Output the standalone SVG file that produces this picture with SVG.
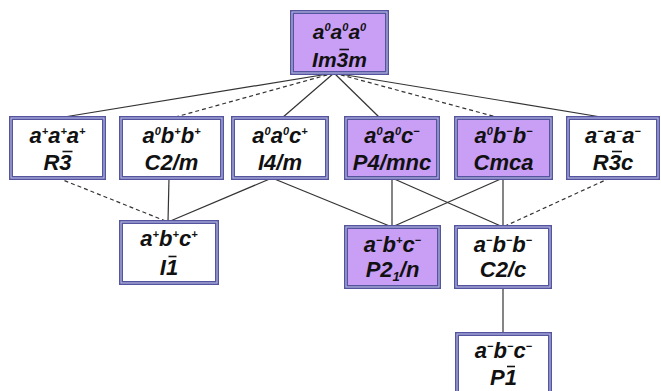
<svg xmlns="http://www.w3.org/2000/svg" width="661" height="391" viewBox="0 0 661 391">
  <style>
    .box { stroke: #55559f; stroke-width: 4; }
    .box-in { fill: none; stroke: #b4b4e2; stroke-width: 1.2; }
    .w { fill: #ffffff; }
    .p { fill: #c99ef5; }
    text { font-family: "Liberation Sans", Arial, sans-serif; font-weight: bold; font-style: italic; fill: #111; text-anchor: middle; }
    .t1 { font-size: 21px; }
    .t2 { font-size: 22px; }
    .sup { font-size: 11px; }
    .sub { font-size: 13px; }
    .bar { stroke: #111; stroke-width: 1.6; }
    .con line { stroke: #333; stroke-width: 1.2; fill: none; }
    .con .d { stroke-dasharray: 4 3; }
  </style>

  <!-- connectors -->
  <g id="connectors" class="con">
    <line x1="334" y1="73" x2="58" y2="118"/>
    <line class="d" x1="334" y1="73" x2="172" y2="118"/>
    <line x1="334" y1="73" x2="282" y2="118"/>
    <line x1="334" y1="73" x2="380" y2="118"/>
    <line class="d" x1="334" y1="73" x2="500" y2="118"/>
    <line x1="334" y1="73" x2="607" y2="118"/>
    <line class="d" x1="58" y1="178" x2="168" y2="222"/>
    <line x1="169" y1="178" x2="168" y2="222"/>
    <line x1="272" y1="178" x2="168" y2="222"/>
    <line x1="272" y1="178" x2="392" y2="227"/>
    <line x1="392" y1="178" x2="392" y2="227"/>
    <line x1="392" y1="178" x2="503" y2="227"/>
    <line x1="503" y1="178" x2="503" y2="227"/>
    <line x1="503" y1="178" x2="392" y2="227"/>
    <line class="d" x1="610" y1="178" x2="503" y2="227"/>
    <line x1="503" y1="287" x2="503" y2="334"/>
  </g>

  <!-- Im-3m -->
  <g id="n-im3m">
    <rect class="box p" x="292" y="12" width="95" height="61"/>
    <rect class="box-in" x="292" y="12" width="95" height="61"/>
    <text class="t1" x="339.5" y="39">a<tspan class="sup" dy="-8.5">0</tspan><tspan dy="8.5">a</tspan><tspan class="sup" dy="-8.5">0</tspan><tspan dy="8.5">a</tspan><tspan class="sup" dy="-8.5">0</tspan></text>
    <text class="t1" x="339.5" y="67">Im3m</text>
    <line class="bar" x1="339.5" y1="49.5" x2="349" y2="49.5"/>
  </g>

  <!-- R-3 -->
  <g id="n-r3">
    <rect class="box w" x="11" y="118" width="93" height="60"/>
    <rect class="box-in" x="11" y="118" width="93" height="60"/>
    <text class="t2" x="57.5" y="143">a<tspan class="sup" dy="-8.5">+</tspan><tspan dy="8.5">a</tspan><tspan class="sup" dy="-8.5">+</tspan><tspan dy="8.5">a</tspan><tspan class="sup" dy="-8.5">+</tspan></text>
    <text class="t2" x="57.5" y="170">R3</text>
    <line class="bar" x1="62.5" y1="151.5" x2="72.5" y2="151.5"/>
  </g>

  <!-- C2/m -->
  <g id="n-c2m">
    <rect class="box w" x="121" y="118" width="101" height="60"/>
    <rect class="box-in" x="121" y="118" width="101" height="60"/>
    <text class="t2" x="171.5" y="143">a<tspan class="sup" dy="-8.5">0</tspan><tspan dy="8.5">b</tspan><tspan class="sup" dy="-8.5">+</tspan><tspan dy="8.5">b</tspan><tspan class="sup" dy="-8.5">+</tspan></text>
    <text class="t2" x="171.5" y="170">C2/m</text>
  </g>

  <!-- I4/m -->
  <g id="n-i4m">
    <rect class="box w" x="233" y="118" width="94" height="60"/>
    <rect class="box-in" x="233" y="118" width="94" height="60"/>
    <text class="t2" x="280" y="143">a<tspan class="sup" dy="-8.5">0</tspan><tspan dy="8.5">a</tspan><tspan class="sup" dy="-8.5">0</tspan><tspan dy="8.5">c</tspan><tspan class="sup" dy="-8.5">+</tspan></text>
    <text class="t2" x="280" y="170">I4/m</text>
  </g>

  <!-- P4/mnc -->
  <g id="n-p4mnc">
    <rect class="box p" x="346" y="118" width="92" height="60"/>
    <rect class="box-in" x="346" y="118" width="92" height="60"/>
    <text class="t2" x="392" y="143">a<tspan class="sup" dy="-8.5">0</tspan><tspan dy="8.5">a</tspan><tspan class="sup" dy="-8.5">0</tspan><tspan dy="8.5">c</tspan><tspan class="sup" dy="-8.5">−</tspan></text>
    <text class="t2" x="392" y="170">P4/mnc</text>
  </g>

  <!-- Cmca -->
  <g id="n-cmca">
    <rect class="box p" x="456" y="118" width="95" height="60"/>
    <rect class="box-in" x="456" y="118" width="95" height="60"/>
    <text class="t2" x="503.5" y="143">a<tspan class="sup" dy="-8.5">0</tspan><tspan dy="8.5">b</tspan><tspan class="sup" dy="-8.5">−</tspan><tspan dy="8.5">b</tspan><tspan class="sup" dy="-8.5">−</tspan></text>
    <text class="t2" x="503.5" y="170">Cmca</text>
  </g>

  <!-- R-3c -->
  <g id="n-r3c">
    <rect class="box w" x="568" y="118" width="90" height="60"/>
    <rect class="box-in" x="568" y="118" width="90" height="60"/>
    <text class="t2" x="613" y="143">a<tspan class="sup" dy="-8.5">−</tspan><tspan dy="8.5">a</tspan><tspan class="sup" dy="-8.5">−</tspan><tspan dy="8.5">a</tspan><tspan class="sup" dy="-8.5">−</tspan></text>
    <text class="t2" x="613" y="170">R3c</text>
    <line class="bar" x1="612" y1="151.5" x2="622" y2="151.5"/>
  </g>

  <!-- I-1 -->
  <g id="n-i1">
    <rect class="box w" x="121" y="222" width="96" height="61"/>
    <rect class="box-in" x="121" y="222" width="96" height="61"/>
    <text class="t2" x="169" y="246">a<tspan class="sup" dy="-8.5">+</tspan><tspan dy="8.5">b</tspan><tspan class="sup" dy="-8.5">+</tspan><tspan dy="8.5">c</tspan><tspan class="sup" dy="-8.5">+</tspan></text>
    <text class="t2" x="169" y="275">I1</text>
    <line class="bar" x1="168.5" y1="256.5" x2="176.5" y2="256.5"/>
  </g>

  <!-- P21/n -->
  <g id="n-p21n">
    <rect class="box p" x="346" y="227" width="93" height="60"/>
    <rect class="box-in" x="346" y="227" width="93" height="60"/>
    <text class="t2" x="392.5" y="252">a<tspan class="sup" dy="-8.5">−</tspan><tspan dy="8.5">b</tspan><tspan class="sup" dy="-8.5">+</tspan><tspan dy="8.5">c</tspan><tspan class="sup" dy="-8.5">−</tspan></text>
    <text class="t2" x="392.5" y="277">P2<tspan class="sub" dy="4">1</tspan><tspan dy="-4">/n</tspan></text>
  </g>

  <!-- C2/c -->
  <g id="n-c2c">
    <rect class="box w" x="456" y="227" width="94" height="60"/>
    <rect class="box-in" x="456" y="227" width="94" height="60"/>
    <text class="t2" x="503" y="252">a<tspan class="sup" dy="-8.5">−</tspan><tspan dy="8.5">b</tspan><tspan class="sup" dy="-8.5">−</tspan><tspan dy="8.5">b</tspan><tspan class="sup" dy="-8.5">−</tspan></text>
    <text class="t2" x="503" y="277">C2/c</text>
  </g>

  <!-- P-1 -->
  <g id="n-p1">
    <rect class="box w" x="457" y="334" width="93" height="60"/>
    <rect class="box-in" x="457" y="334" width="93" height="60"/>
    <text class="t2" x="503.5" y="358">a<tspan class="sup" dy="-8.5">−</tspan><tspan dy="8.5">b</tspan><tspan class="sup" dy="-8.5">−</tspan><tspan dy="8.5">c</tspan><tspan class="sup" dy="-8.5">−</tspan></text>
    <text class="t2" x="503.5" y="385">P1</text>
    <line class="bar" x1="507" y1="366.5" x2="515" y2="366.5"/>
  </g>
</svg>
